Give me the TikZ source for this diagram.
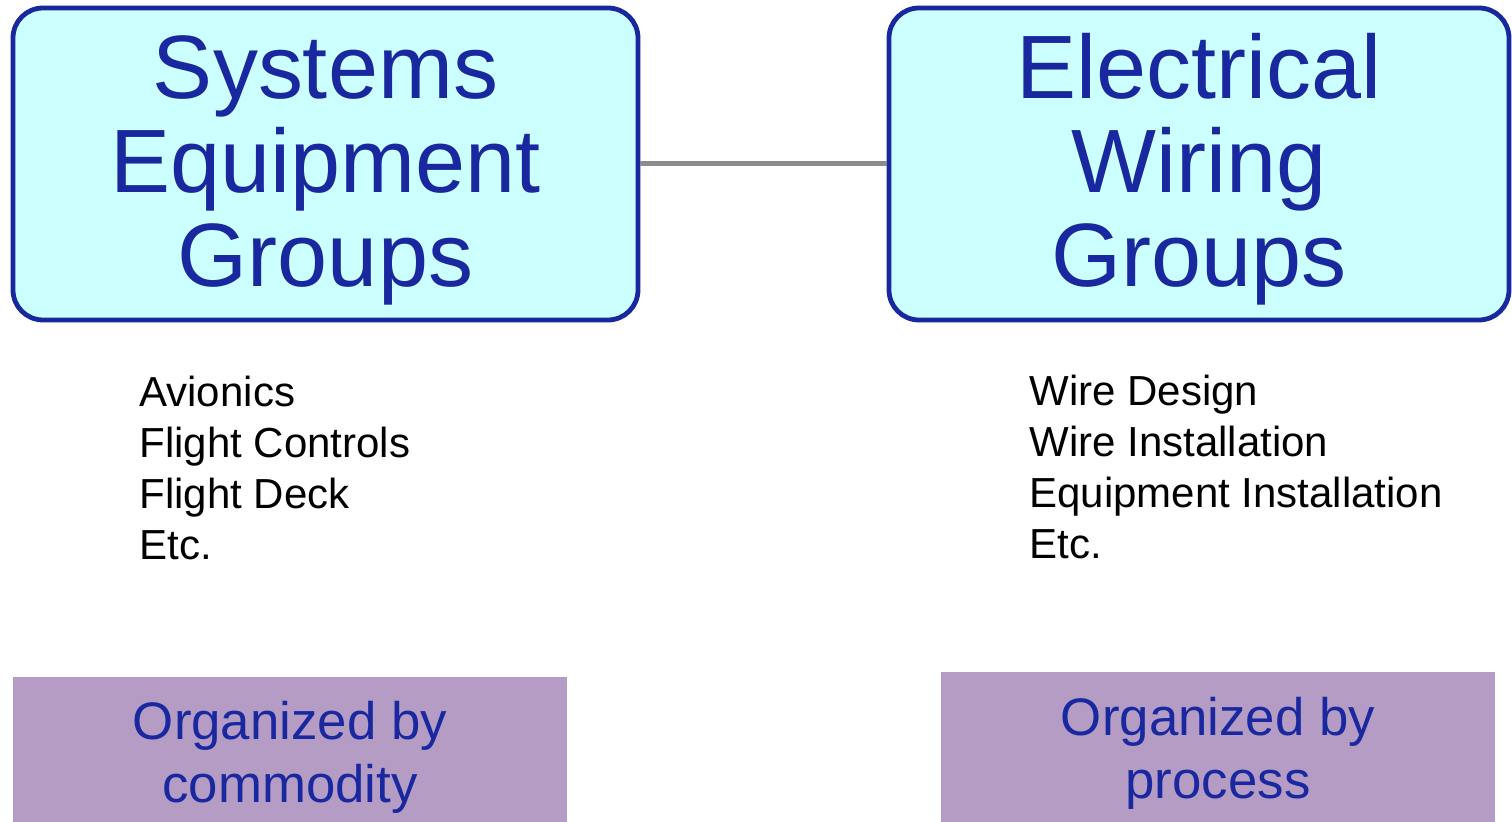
\documentclass[tikz,border=0pt]{standalone}
\usepackage{fontspec}
\setmainfont{Liberation Sans}
\definecolor{groupblue}{RGB}{26,40,160}
\definecolor{groupfill}{RGB}{204,255,255}
\definecolor{notefill}{RGB}{180,156,196}
\definecolor{linkgray}{RGB}{140,140,140}
\newcommand{\titletop}{\rule{0pt}{38pt}}
\begin{document}
\begin{tikzpicture}[x=0.5pt, y=-0.5pt,
  groupbox/.style={draw=groupblue, line width=2.4pt, fill=groupfill, rounded corners=15pt, minimum height=156pt, inner sep=0pt, align=center, text=groupblue, font=\fontsize{45}{47}\selectfont},
  itemlist/.style={anchor=north west, inner sep=0pt, align=left, font=\fontsize{21}{25.5}\selectfont},
  notebox/.style={fill=notefill, minimum width=277pt, minimum height=80.5pt, inner sep=0pt, align=center, text=groupblue, font=\fontsize{26.4}{31.5}\selectfont}]
  \path[use as bounding box, fill=white] (0,0) rectangle (1512,822);

  \node[groupbox, minimum width=312.5pt] (equip) at (325.5,164) {\titletop Systems\\Equipment\\Groups};
  \node[groupbox, minimum width=310pt] (wiring) at (1199,164) {\titletop Electrical\\Wiring\\Groups};

  \node[itemlist] (equiplist) at (139,376) {Avionics\\Flight Controls\\Flight Deck\\Etc.};
  \node[itemlist] (wiringlist) at (1029,375) {Wire Design\\Wire Installation\\Equipment Installation\\Etc.};

  \node[notebox] (commodity) at (290,757.5) {Organized by\\commodity};
  \node[notebox] (process) at (1218,753) {Organized by\\process};

  \draw[linkgray, line width=2.5pt] (equip) -- (wiring);
\end{tikzpicture}
\end{document}
